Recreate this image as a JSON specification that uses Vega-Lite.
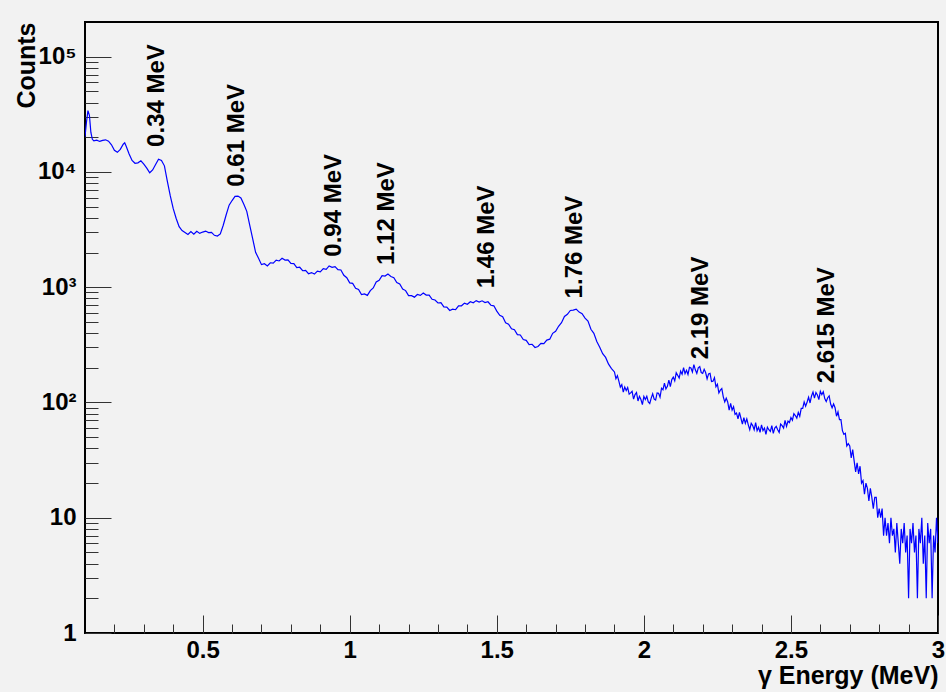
{
  "$schema": "https://vega.github.io/schema/vega-lite/v6.json",
  "width": 853,
  "height": 611,
  "autosize": "none",
  "padding": {"left": 85, "top": 22, "right": 8, "bottom": 59},
  "background": "#f2f2f2",
  "config": {
    "view": {"stroke": "black", "strokeWidth": 2, "fill": "#f2f2f2"},
    "axis": {"grid": false, "domain": false, "labelFont": "Liberation Sans", "labelFontWeight": "bold", "labelFontSize": 24, "labelColor": "black", "titleFont": "Liberation Sans", "titleFontWeight": "bold", "titleFontSize": 25, "titleColor": "black", "tickColor": "#333333", "tickWidth": 1}
  },
  "datasets": {
    "spectrum": [
      {"e":0.100,"c":20200},{"e":0.105,"c":27000},{"e":0.110,"c":34000},{"e":0.115,"c":31000},{"e":0.120,"c":22000},{"e":0.125,"c":19200},
      {"e":0.13,"c":18600},{"e":0.14,"c":18900},{"e":0.15,"c":18400},{"e":0.16,"c":18800},{"e":0.17,"c":19000},{"e":0.18,"c":18500},{"e":0.19,"c":17200},{"e":0.20,"c":15400},
      {"e":0.21,"c":14800},{"e":0.22,"c":15700},{"e":0.23,"c":17400},{"e":0.235,"c":17900},{"e":0.24,"c":16700},{"e":0.25,"c":14300},{"e":0.26,"c":12600},{"e":0.27,"c":11900},
      {"e":0.28,"c":12000},{"e":0.29,"c":12500},{"e":0.30,"c":11700},{"e":0.31,"c":10800},{"e":0.32,"c":9850},{"e":0.33,"c":10400},{"e":0.34,"c":11600},{"e":0.35,"c":12900},
      {"e":0.36,"c":12600},{"e":0.37,"c":11300},{"e":0.38,"c":8300},{"e":0.39,"c":6200},{"e":0.40,"c":4800},{"e":0.41,"c":3950},{"e":0.42,"c":3350},{"e":0.43,"c":3100},
      {"e":0.44,"c":2990},{"e":0.45,"c":2870},{"e":0.46,"c":3040},{"e":0.47,"c":2880},{"e":0.48,"c":3060},{"e":0.49,"c":2930},{"e":0.50,"c":3010},{"e":0.51,"c":3070},
      {"e":0.52,"c":2980},{"e":0.53,"c":2990},{"e":0.54,"c":2820},{"e":0.55,"c":2780},{"e":0.56,"c":2900},{"e":0.57,"c":3450},{"e":0.58,"c":4250},{"e":0.59,"c":5150},
      {"e":0.60,"c":5650},{"e":0.61,"c":6150},{"e":0.62,"c":6180},{"e":0.63,"c":5950},{"e":0.64,"c":5250},{"e":0.65,"c":4550},{"e":0.66,"c":3450},{"e":0.67,"c":2640},
      {"e":0.68,"c":2010},{"e":0.69,"c":1780},{"e":0.70,"c":1570},{"e":0.71,"c":1600},{"e":0.72,"c":1530},{"e":0.73,"c":1630},{"e":0.74,"c":1620},{"e":0.75,"c":1720},
      {"e":0.76,"c":1690},{"e":0.77,"c":1780},{"e":0.78,"c":1720},{"e":0.79,"c":1730},{"e":0.80,"c":1610},{"e":0.81,"c":1600},{"e":0.82,"c":1480},{"e":0.83,"c":1490},
      {"e":0.84,"c":1390},{"e":0.85,"c":1400},{"e":0.86,"c":1310},{"e":0.87,"c":1340},{"e":0.88,"c":1300},{"e":0.89,"c":1380},{"e":0.90,"c":1360},{"e":0.91,"c":1450},
      {"e":0.92,"c":1430},{"e":0.93,"c":1530},{"e":0.94,"c":1490},{"e":0.95,"c":1510},{"e":0.96,"c":1420},{"e":0.97,"c":1410},{"e":0.98,"c":1270},{"e":0.99,"c":1210},
      {"e":1.00,"c":1090},{"e":1.01,"c":1080},{"e":1.02,"c":980},{"e":1.03,"c":955},{"e":1.04,"c":865},{"e":1.05,"c":875},{"e":1.06,"c":850},{"e":1.07,"c":935},
      {"e":1.08,"c":985},{"e":1.09,"c":1110},{"e":1.10,"c":1150},{"e":1.11,"c":1260},{"e":1.12,"c":1250},{"e":1.13,"c":1300},{"e":1.14,"c":1240},{"e":1.15,"c":1210},
      {"e":1.16,"c":1100},{"e":1.17,"c":1065},{"e":1.18,"c":965},{"e":1.19,"c":935},{"e":1.20,"c":845},{"e":1.21,"c":845},{"e":1.22,"c":820},{"e":1.23,"c":865},
      {"e":1.24,"c":850},{"e":1.25,"c":890},{"e":1.26,"c":855},{"e":1.27,"c":855},{"e":1.28,"c":785},{"e":1.29,"c":775},{"e":1.30,"c":730},{"e":1.31,"c":735},
      {"e":1.32,"c":675},{"e":1.33,"c":672},{"e":1.34,"c":628},{"e":1.35,"c":645},{"e":1.36,"c":638},{"e":1.37,"c":688},{"e":1.38,"c":690},{"e":1.39,"c":728},
      {"e":1.40,"c":712},{"e":1.41,"c":748},{"e":1.42,"c":732},{"e":1.43,"c":765},{"e":1.44,"c":742},{"e":1.45,"c":762},{"e":1.46,"c":735},{"e":1.47,"c":748},
      {"e":1.48,"c":698},{"e":1.49,"c":690},{"e":1.50,"c":620},{"e":1.51,"c":570},{"e":1.52,"c":555},{"e":1.53,"c":492},{"e":1.54,"c":478},{"e":1.55,"c":436},
      {"e":1.56,"c":428},{"e":1.57,"c":388},{"e":1.58,"c":385},{"e":1.59,"c":352},{"e":1.60,"c":346},{"e":1.61,"c":318},{"e":1.62,"c":320},{"e":1.63,"c":300},
      {"e":1.64,"c":306},{"e":1.65,"c":326},{"e":1.66,"c":324},{"e":1.67,"c":348},{"e":1.68,"c":354},{"e":1.69,"c":398},{"e":1.70,"c":414},{"e":1.71,"c":458},
      {"e":1.72,"c":492},{"e":1.73,"c":558},{"e":1.74,"c":582},{"e":1.75,"c":628},{"e":1.76,"c":632},{"e":1.77,"c":645},{"e":1.78,"c":608},{"e":1.79,"c":590},
      {"e":1.80,"c":540},{"e":1.81,"c":508},{"e":1.82,"c":432},{"e":1.83,"c":398},{"e":1.84,"c":338},{"e":1.85,"c":302},{"e":1.86,"c":265},{"e":1.87,"c":246},
      {"e":1.88,"c":215},{"e":1.89,"c":197},
      {"e":1.900,"c":184},{"e":1.905,"c":161},{"e":1.910,"c":171},{"e":1.915,"c":153},{"e":1.920,"c":136},{"e":1.925,"c":143},{"e":1.930,"c":123},{"e":1.935,"c":136},
      {"e":1.940,"c":127},{"e":1.945,"c":135},{"e":1.950,"c":118},{"e":1.955,"c":121},{"e":1.960,"c":125},{"e":1.965,"c":107},{"e":1.970,"c":117},{"e":1.975,"c":122},
      {"e":1.980,"c":103},{"e":1.985,"c":113},{"e":1.990,"c":106},{"e":1.995,"c":96},{"e":2.000,"c":113},{"e":2.005,"c":106},{"e":2.010,"c":113},{"e":2.015,"c":101},
      {"e":2.020,"c":98},{"e":2.025,"c":109},{"e":2.030,"c":119},{"e":2.035,"c":107},{"e":2.040,"c":105},{"e":2.045,"c":121},{"e":2.050,"c":120},{"e":2.055,"c":111},
      {"e":2.060,"c":133},{"e":2.065,"c":129},{"e":2.070,"c":147},{"e":2.075,"c":131},{"e":2.080,"c":138},{"e":2.085,"c":156},{"e":2.090,"c":137},{"e":2.095,"c":158},
      {"e":2.100,"c":166},{"e":2.105,"c":154},{"e":2.110,"c":181},{"e":2.115,"c":172},{"e":2.120,"c":163},{"e":2.125,"c":187},{"e":2.130,"c":176},{"e":2.135,"c":201},
      {"e":2.140,"c":178},{"e":2.145,"c":190},{"e":2.150,"c":175},{"e":2.155,"c":202},{"e":2.160,"c":199},{"e":2.165,"c":184},{"e":2.170,"c":213},{"e":2.175,"c":192},
      {"e":2.180,"c":179},{"e":2.185,"c":200},{"e":2.190,"c":205},{"e":2.195,"c":182},{"e":2.200,"c":179},{"e":2.205,"c":194},{"e":2.210,"c":182},{"e":2.215,"c":160},
      {"e":2.220,"c":177},{"e":2.225,"c":179},{"e":2.230,"c":152},{"e":2.235,"c":153},{"e":2.240,"c":164},{"e":2.245,"c":137},{"e":2.250,"c":144},{"e":2.255,"c":121},
      {"e":2.260,"c":128},{"e":2.265,"c":132},{"e":2.270,"c":112},{"e":2.275,"c":101},{"e":2.280,"c":109},{"e":2.285,"c":101},{"e":2.290,"c":86},{"e":2.295,"c":98},
      {"e":2.300,"c":86},{"e":2.305,"c":92},{"e":2.310,"c":79},{"e":2.315,"c":81},{"e":2.320,"c":72},{"e":2.325,"c":82},{"e":2.330,"c":73},{"e":2.335,"c":65},
      {"e":2.340,"c":74},{"e":2.345,"c":66},{"e":2.350,"c":72},{"e":2.355,"c":64},{"e":2.360,"c":58},{"e":2.365,"c":66},{"e":2.370,"c":63},{"e":2.375,"c":58},
      {"e":2.380,"c":67},{"e":2.385,"c":57},{"e":2.390,"c":61},{"e":2.395,"c":55},{"e":2.400,"c":64},{"e":2.405,"c":57},{"e":2.410,"c":60},{"e":2.415,"c":53},
      {"e":2.420,"c":61},{"e":2.425,"c":58},{"e":2.430,"c":56},{"e":2.435,"c":63},{"e":2.440,"c":54},{"e":2.445,"c":60},{"e":2.450,"c":62},{"e":2.455,"c":58},
      {"e":2.460,"c":55},{"e":2.465,"c":65},{"e":2.470,"c":63},{"e":2.475,"c":60},{"e":2.480,"c":70},{"e":2.485,"c":62},{"e":2.490,"c":69},{"e":2.495,"c":67},
      {"e":2.500,"c":74},{"e":2.505,"c":70},{"e":2.510,"c":80},{"e":2.515,"c":77},{"e":2.520,"c":73},{"e":2.525,"c":82},{"e":2.530,"c":76},{"e":2.535,"c":89},
      {"e":2.540,"c":89},{"e":2.545,"c":101},{"e":2.550,"c":93},{"e":2.555,"c":101},{"e":2.560,"c":111},{"e":2.565,"c":99},{"e":2.570,"c":114},{"e":2.575,"c":123},
      {"e":2.580,"c":109},{"e":2.585,"c":122},{"e":2.590,"c":116},{"e":2.595,"c":106},{"e":2.600,"c":125},{"e":2.605,"c":117},{"e":2.610,"c":124},{"e":2.615,"c":108},
      {"e":2.620,"c":102},{"e":2.625,"c":110},{"e":2.630,"c":114},{"e":2.635,"c":97},{"e":2.640,"c":90},{"e":2.645,"c":97},{"e":2.650,"c":90},{"e":2.655,"c":76},
      {"e":2.660,"c":83},{"e":2.665,"c":71},{"e":2.670,"c":71},{"e":2.675,"c":57},{"e":2.680,"c":53},{"e":2.685,"c":54},{"e":2.690,"c":42},{"e":2.695,"c":44},
      {"e":2.700,"c":42},{"e":2.705,"c":33},{"e":2.710,"c":39},{"e":2.715,"c":31},{"e":2.720,"c":25},{"e":2.725,"c":30},{"e":2.730,"c":24},{"e":2.735,"c":28},
      {"e":2.740,"c":20},{"e":2.745,"c":21},{"e":2.750,"c":16},{"e":2.755,"c":20},{"e":2.760,"c":18},{"e":2.765,"c":14},{"e":2.770,"c":18},{"e":2.775,"c":15},
      {"e":2.780,"c":12},{"e":2.785,"c":15},{"e":2.790,"c":15},{"e":2.795,"c":10},{"e":2.800,"c":12},{"e":2.805,"c":10},{"e":2.810,"c":12},{"e":2.815,"c":7},
      {"e":2.820,"c":10},{"e":2.825,"c":7},{"e":2.830,"c":9},{"e":2.835,"c":6},{"e":2.840,"c":10},{"e":2.845,"c":7},
      {"e":2.850,"c":8},{"e":2.855,"c":5},{"e":2.860,"c":9},{"e":2.865,"c":6},{"e":2.870,"c":4},{"e":2.875,"c":8},{"e":2.880,"c":6},{"e":2.885,"c":9},
      {"e":2.890,"c":5},{"e":2.895,"c":7},{"e":2.900,"c":2},{"e":2.905,"c":8},{"e":2.910,"c":6},{"e":2.915,"c":9},{"e":2.920,"c":5},{"e":2.925,"c":7},
      {"e":2.930,"c":2},{"e":2.935,"c":8},{"e":2.940,"c":6},{"e":2.945,"c":10},{"e":2.950,"c":4},{"e":2.955,"c":7},{"e":2.960,"c":2},{"e":2.965,"c":9},
      {"e":2.970,"c":6},{"e":2.975,"c":8},{"e":2.980,"c":2},{"e":2.985,"c":7},{"e":2.990,"c":5},{"e":2.995,"c":10},{"e":3.000,"c":6}
    ],
    "labels": [
      {"e":0.345,"c":16500,"t":"0.34 MeV"},
      {"e":0.616,"c":7450,"t":"0.61 MeV"},
      {"e":0.945,"c":1840,"t":"0.94 MeV"},
      {"e":1.126,"c":1560,"t":"1.12 MeV"},
      {"e":1.466,"c":980,"t":"1.46 MeV"},
      {"e":1.767,"c":800,"t":"1.76 MeV"},
      {"e":2.194,"c":237,"t":"2.19 MeV"},
      {"e":2.623,"c":147,"t":"2.615 MeV"}
    ]
  },
  "layer": [
    {
      "data": {"name": "spectrum"},
      "mark": {"type": "line", "color": "#0000ff", "strokeWidth": 1.2, "clip": true},
      "encoding": {
        "x": {"field": "e", "type": "quantitative", "scale": {"domain": [0.1, 3], "nice": false, "zero": false},
          "axis": {"orient": "bottom", "values": [0.5, 1, 1.5, 2, 2.5, 3], "format": "~g", "ticks": false, "labelPadding": 5, "labelFlush": false, "title": "γ Energy (MeV)", "titleAnchor": "end", "titleAlign": "right", "titleBaseline": "alphabetic", "titleX": 853, "titleY": 50}},
        "y": {"field": "c", "type": "quantitative", "scale": {"type": "log", "domain": [1, 200000], "nice": false},
          "axis": {"orient": "left", "values": [1, 10, 100, 1000, 10000, 100000], "ticks": false, "labelPadding": 9, "labelFlush": false,
            "labelExpr": "datum.value == 1 ? '1' : datum.value == 10 ? '10' : datum.value == 100 ? '10²' : datum.value == 1000 ? '10³' : datum.value == 10000 ? '10⁴' : '10⁵'",
            "title": "Counts", "titleAngle": 270, "titleAlign": "right", "titleBaseline": "alphabetic", "titleX": -51, "titleY": 0}}
      }
    },
    {
      "data": {"name": "labels"},
      "mark": {"type": "text", "angle": 270, "align": "left", "baseline": "middle", "font": "Liberation Sans", "fontWeight": "bold", "fontSize": 24, "color": "black"},
      "encoding": {
        "x": {"field": "e", "type": "quantitative", "scale": {"domain": [0.1, 3], "nice": false, "zero": false},
          "axis": {"orient": "bottom", "values": [0.5, 1, 1.5, 2, 2.5, 3], "labels": false, "tickSize": -18, "title": null}},
        "y": {"field": "c", "type": "quantitative", "scale": {"type": "log", "domain": [1, 200000], "nice": false},
          "axis": {"orient": "left", "values": [1, 10, 100, 1000, 10000, 100000], "labels": false, "tickSize": -26, "title": null}},
        "text": {"field": "t"}
      }
    },
    {
      "data": {"name": "labels"},
      "mark": {"type": "point", "opacity": 0},
      "encoding": {
        "x": {"field": "e", "type": "quantitative", "scale": {"domain": [0.1, 3], "nice": false, "zero": false},
          "axis": {"orient": "bottom", "values": [0.2,0.3,0.4,0.6,0.7,0.8,0.9,1.1,1.2,1.3,1.4,1.6,1.7,1.8,1.9,2.1,2.2,2.3,2.4,2.6,2.7,2.8,2.9], "labels": false, "tickSize": -9, "title": null}},
        "y": {"field": "c", "type": "quantitative", "scale": {"type": "log", "domain": [1, 200000], "nice": false},
          "axis": {"orient": "left", "values": [2,3,4,5,6,7,8,9,20,30,40,50,60,70,80,90,200,300,400,500,600,700,800,900,2000,3000,4000,5000,6000,7000,8000,9000,20000,30000,40000,50000,60000,70000,80000,90000], "labels": false, "tickSize": -13, "title": null}}
      }
    }
  ],
  "resolve": {"axis": {"x": "independent", "y": "independent"}}
}
